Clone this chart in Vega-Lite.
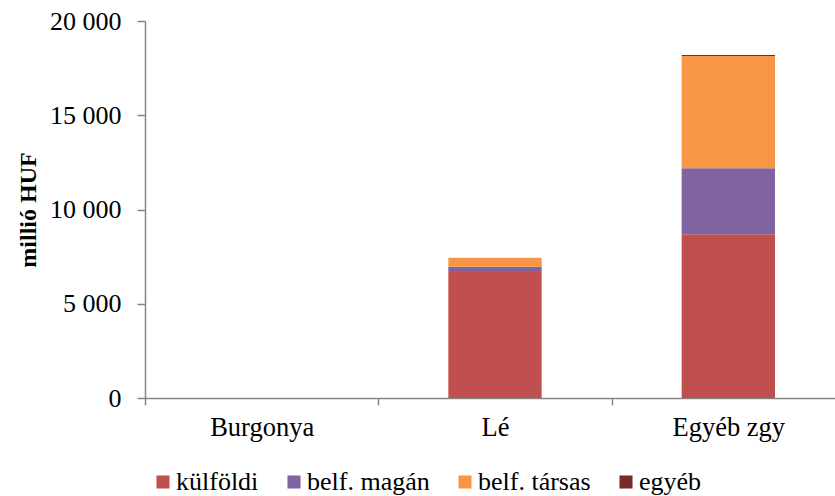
{
  "$schema": "https://vega.github.io/schema/vega-lite/v6.json",
  "autosize": "none",
  "width": 700,
  "height": 377,
  "padding": {"left": 145, "top": 21, "right": 0, "bottom": 98},
  "background": "white",
  "config": {
    "font": "Liberation Serif",
    "view": {"stroke": null},
    "axis": {"labelFont": "Liberation Serif", "titleFont": "Liberation Serif"},
    "legend": {"labelFont": "Liberation Serif"}
  },
  "data": {
    "values": [
      {"kategoria": "Burgonya", "tipus": "külföldi", "ertek": 0, "o": 1},
      {"kategoria": "Burgonya", "tipus": "belf. magán", "ertek": 0, "o": 2},
      {"kategoria": "Burgonya", "tipus": "belf. társas", "ertek": 0, "o": 3},
      {"kategoria": "Burgonya", "tipus": "egyéb", "ertek": 0, "o": 4},
      {"kategoria": "Lé", "tipus": "külföldi", "ertek": 6680, "o": 1},
      {"kategoria": "Lé", "tipus": "belf. magán", "ertek": 285, "o": 2},
      {"kategoria": "Lé", "tipus": "belf. társas", "ertek": 475, "o": 3},
      {"kategoria": "Lé", "tipus": "egyéb", "ertek": 5, "o": 4},
      {"kategoria": "Egyéb zgy", "tipus": "külföldi", "ertek": 8684, "o": 1},
      {"kategoria": "Egyéb zgy", "tipus": "belf. magán", "ertek": 3500, "o": 2},
      {"kategoria": "Egyéb zgy", "tipus": "belf. társas", "ertek": 5960, "o": 3},
      {"kategoria": "Egyéb zgy", "tipus": "egyéb", "ertek": 50, "o": 4}
    ]
  },
  "mark": {"type": "bar", "width": {"band": 0.4}},
  "encoding": {
    "x": {
      "field": "kategoria",
      "type": "nominal",
      "sort": ["Burgonya", "Lé", "Egyéb zgy"],
      "scale": {"paddingInner": 0, "paddingOuter": 0},
      "axis": {
        "title": null,
        "labelAngle": 0,
        "labelFont": "Liberation Serif",
        "labelFontSize": 26.5,
        "labelColor": "black",
        "labelPadding": 9,
        "tickBand": "extent",
        "tickSize": 7,
        "tickColor": "#868686",
        "domainColor": "#868686",
        "domainWidth": 1.5,
        "tickWidth": 1.5
      }
    },
    "y": {
      "field": "ertek",
      "type": "quantitative",
      "stack": "zero",
      "scale": {"domain": [0, 20000]},
      "axis": {
        "title": "millió HUF",
        "titleFont": "Liberation Serif",
        "titleFontSize": 24,
        "titleFontWeight": "bold",
        "titleColor": "black",
        "titlePadding": 9,
        "values": [0, 5000, 10000, 15000, 20000],
        "labelExpr": "replace(format(datum.value, ',d'), ',', ' ')",
        "labelFont": "Liberation Serif",
        "labelFontSize": 26,
        "labelColor": "black",
        "labelPadding": 16,
        "tickSize": 8,
        "tickColor": "#868686",
        "domainColor": "#868686",
        "domainWidth": 1.5,
        "tickWidth": 1.5,
        "grid": false
      }
    },
    "color": {
      "field": "tipus",
      "type": "nominal",
      "sort": ["külföldi", "belf. magán", "belf. társas", "egyéb"],
      "scale": {
        "domain": ["külföldi", "belf. magán", "belf. társas", "egyéb"],
        "range": ["#C0504D", "#8064A2", "#F79646", "#772C2A"]
      },
      "legend": {
        "title": null,
        "orient": "none",
        "direction": "horizontal",
        "legendX": 5,
        "legendY": 448,
        "symbolType": "square",
        "symbolSize": 170,
        "symbolStrokeWidth": 0,
        "symbolOpacity": 1,
        "labelFont": "Liberation Serif",
        "labelFontSize": 26,
        "labelColor": "black",
        "labelOffset": 0,
        "columnPadding": 22
      }
    },
    "order": {"field": "o", "type": "quantitative"}
  }
}
